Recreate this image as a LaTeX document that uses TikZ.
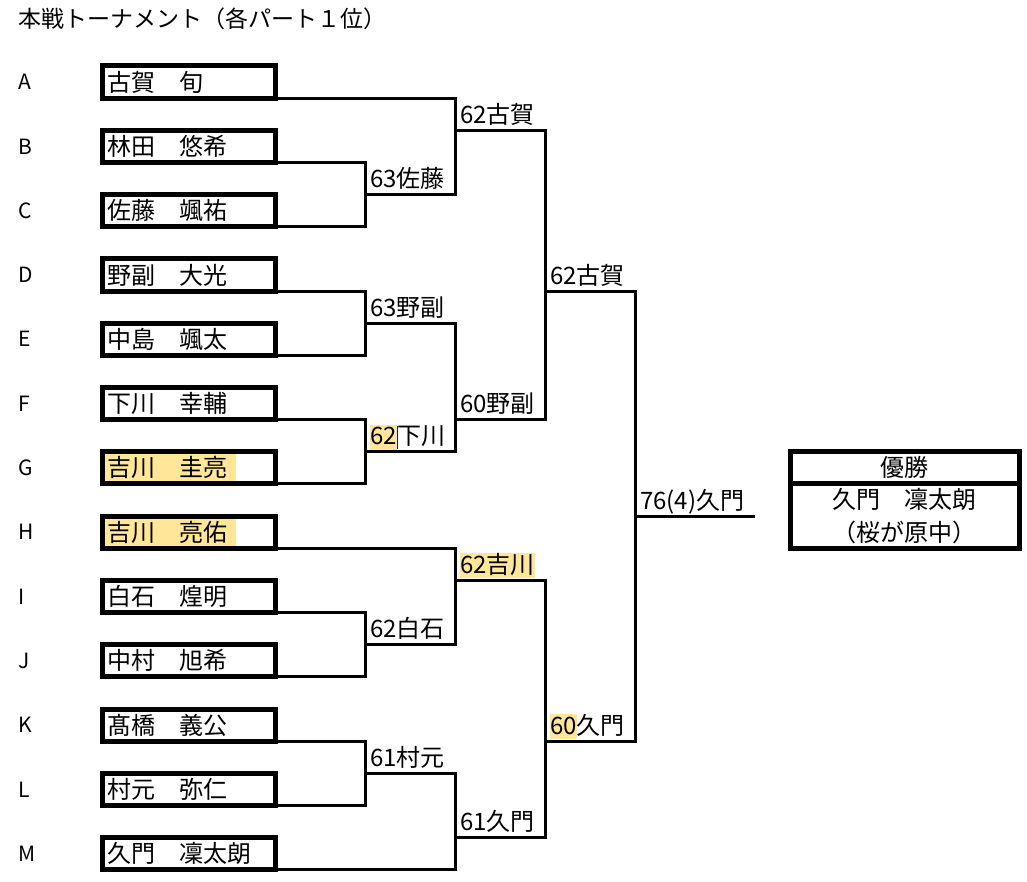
\documentclass[tikz,border=0pt]{standalone}
\usepackage{fontspec}
\setmainfont{Noto Sans CJK JP}
\usepackage{tikz}
\usetikzlibrary{positioning}
\definecolor{hl}{RGB}{255,230,153}
\definecolor{curs}{RGB}{20,30,90}
\newcommand\hlbox[1]{{\setlength\fboxsep{0pt}\colorbox{hl}{\rule[-5pt]{0pt}{25pt}#1}}}

\begin{document}
\begin{tikzpicture}[x=1pt,y=-32.15pt,
  pbox/.style={draw,line width=5pt,anchor=north west,outer sep=0pt,inner xsep=5pt,inner ysep=0pt,
    minimum width=173pt,minimum height=32.15pt,text width=163pt,align=left,font=\fontsize{24}{28}\selectfont},
  champ/.style={draw,line width=5pt,outer sep=0pt,inner sep=0pt,minimum width=229pt,
    align=center,font=\fontsize{24}{32.15}\selectfont},
  letter/.style={anchor=west,inner sep=0pt,font=\fontsize{21}{24}\selectfont},
  score/.style={anchor=base west,inner sep=0pt,xshift=5pt,yshift=7pt,font=\fontsize{24}{28}\selectfont},
  conn/.style={line width=3pt}]
  \useasboundingbox (0,-2.0529) rectangle (1027,25.35);
  \node[anchor=west,inner sep=0pt,font=\fontsize{23}{26}\selectfont] (head) at (18,-1.46) {本戦トーナメント（各パート１位）};

  \node[letter] (lA) at (18,0.5) {A};
  \node[letter] (lB) at (18,2.5) {B};
  \node[letter] (lC) at (18,4.5) {C};
  \node[letter] (lD) at (18,6.5) {D};
  \node[letter] (lE) at (18,8.5) {E};
  \node[letter] (lF) at (18,10.5) {F};
  \node[letter] (lG) at (18,12.5) {G};
  \node[letter] (lH) at (18,14.5) {H};
  \node[letter] (lI) at (18,16.5) {I};
  \node[letter] (lJ) at (18,18.5) {J};
  \node[letter] (lK) at (18,20.5) {K};
  \node[letter] (lL) at (18,22.5) {L};
  \node[letter] (lM) at (18,24.5) {M};

  \fill[hl] (104.5,12) rectangle (236,13);
  \fill[hl] (104.5,14) rectangle (236,15);

  \node[pbox] (pA) at (102,0) {古賀　旬};
  \node[pbox] (pB) at (102,2) {林田　悠希};
  \node[pbox] (pC) at (102,4) {佐藤　颯祐};
  \node[pbox] (pD) at (102,6) {野副　大光};
  \node[pbox] (pE) at (102,8) {中島　颯太};
  \node[pbox] (pF) at (102,10) {下川　幸輔};
  \node[pbox] (pG) at (102,12) {吉川　圭亮};
  \node[pbox] (pH) at (102,14) {吉川　亮佑};
  \node[pbox] (pI) at (102,16) {白石　煌明};
  \node[pbox] (pJ) at (102,18) {中村　旭希};
  \node[pbox] (pK) at (102,20) {髙橋　義公};
  \node[pbox] (pL) at (102,22) {村元　弥仁};
  \node[pbox] (pM) at (102,24) {久門　凜太朗};

  \coordinate (jBC) at (365,4);
  \coordinate (jA) at (455,2);
  \coordinate (jDE) at (365,8);
  \coordinate (jFG) at (365,12);
  \coordinate (jDG) at (455,11);
  \coordinate (jAD) at (545,7);
  \coordinate (jIJ) at (365,18);
  \coordinate (jHJ) at (455,16);
  \coordinate (jKL) at (365,22);
  \coordinate (jKM) at (455,24);
  \coordinate (jHM) at (545,21);
  \coordinate (jF) at (635,14);
  \coordinate (fin) at (755,14);

  \draw[conn] (pB.south east) -| (jBC) |- (pC.south east);
  \draw[conn] (pA.south east) -| (jA) |- (jBC);
  \draw[conn] (pD.south east) -| (jDE) |- (pE.south east);
  \draw[conn] (pF.south east) -| (jFG) |- (pG.south east);
  \draw[conn] (jDE) -| (jDG) |- (jFG);
  \draw[conn] (jA) -| (jAD) |- (jDG);
  \draw[conn] (pI.south east) -| (jIJ) |- (pJ.south east);
  \draw[conn] (pH.south east) -| (jHJ) |- (jIJ);
  \draw[conn] (pK.south east) -| (jKL) |- (pL.south east);
  \draw[conn] (jKL) -| (jKM) |- (pM.south east);
  \draw[conn] (jHJ) -| (jHM) |- (jKM);
  \draw[conn] (jAD) -| (jF) |- (jHM);
  \draw[conn] (jF) -- (fin);

  \node[score] (sBC) at (jBC) {63佐藤};
  \node[score] (sA) at (jA) {62古賀};
  \node[score] (sDE) at (jDE) {63野副};
  \node[score] (sFG) at (jFG) {\hlbox{62}\textcolor{curs}{\rule[-4pt]{0.8pt}{23pt}}下川};
  \node[score] (sDG) at (jDG) {60野副};
  \node[score] (sAD) at (jAD) {62古賀};
  \node[score] (sIJ) at (jIJ) {62白石};
  \node[score] (sHJ) at (jHJ) {\hlbox{62吉川}};
  \node[score] (sKL) at (jKL) {61村元};
  \node[score] (sKM) at (jKM) {61久門};
  \node[score] (sHM) at (jHM) {\hlbox{60}久門};
  \node[score] (sF) at (jF) {76(4)久門};

  \node[champ,anchor=north west,minimum height=32.15pt] (yusho) at (790,12) {優勝};
  \node[champ,below=0pt of yusho,minimum height=64.3pt] (yname) {久門　凜太朗\\（桜が原中）};
\end{tikzpicture}
\end{document}
